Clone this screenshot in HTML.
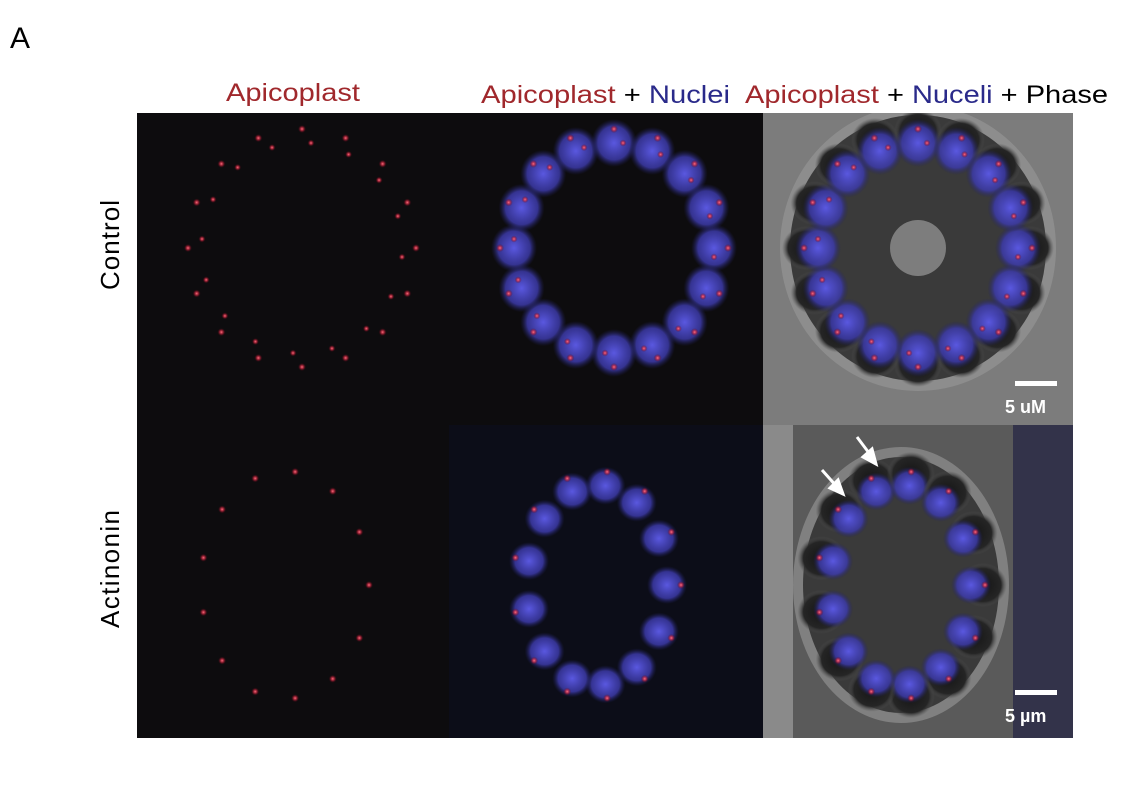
<!DOCTYPE html>
<html><head><meta charset="utf-8"><style>
body{margin:0;background:#fff;width:1131px;height:785px;overflow:hidden;font-family:"Liberation Sans",sans-serif}
</style></head><body>
<svg width="1131" height="785" viewBox="0 0 1131 785">
<defs>
<radialGradient id="rd"><stop offset="0" stop-color="#ff7080"/><stop offset="0.45" stop-color="#c82840" stop-opacity="0.7"/><stop offset="1" stop-color="#500010" stop-opacity="0"/></radialGradient>
<radialGradient id="bl"><stop offset="0" stop-color="#5a58e0"/><stop offset="0.7" stop-color="#3c3aa8" stop-opacity="0.85"/><stop offset="1" stop-color="#202060" stop-opacity="0"/></radialGradient>
<radialGradient id="dk"><stop offset="0" stop-color="#151515"/><stop offset="0.75" stop-color="#252525"/><stop offset="1" stop-color="#555" stop-opacity="0"/></radialGradient>
<clipPath id="c0"><rect x="763" y="113" width="310" height="312"/></clipPath>
<clipPath id="c1"><rect x="763" y="425" width="310" height="313"/></clipPath>
</defs>
<text x="10" y="48" font-size="30" fill="#000">A</text>
<text x="226" y="101" font-size="25" fill="#a0282c" textLength="134" lengthAdjust="spacingAndGlyphs">Apicoplast</text>
<text x="481" y="103" font-size="25" textLength="249" lengthAdjust="spacingAndGlyphs"><tspan fill="#a0282c">Apicoplast</tspan><tspan fill="#000"> + </tspan><tspan fill="#2a2a8a">Nuclei</tspan></text>
<text x="745" y="103" font-size="25" textLength="363" lengthAdjust="spacingAndGlyphs"><tspan fill="#a0282c">Apicoplast</tspan><tspan fill="#000"> + </tspan><tspan fill="#2a2a8a">Nuceli</tspan><tspan fill="#000"> + Phase</tspan></text>
<text transform="translate(119,245) rotate(-90)" font-size="26" text-anchor="middle" textLength="90">Control</text>
<text transform="translate(119,569) rotate(-90)" font-size="26" text-anchor="middle" textLength="118">Actinonin</text>
<g id="panels"></g>
<g><rect x="1015" y="381" width="42" height="5" fill="#fff"/><text x="1005" y="413" font-size="18" fill="#fff" font-weight="bold">5 uM</text></g>
<g><rect x="1015" y="690" width="42" height="5" fill="#fff"/><text x="1005" y="722" font-size="18" fill="#fff" font-weight="bold">5 µm</text></g>
<g stroke="#fff" stroke-width="3" fill="#fff">
<line x1="822" y1="470" x2="838" y2="488"/><polygon points="843,494 830,488 838,480"/>
<line x1="857" y1="437" x2="872" y2="457"/><polygon points="876,464 863,457 872,449"/>
</g>
</svg>
<script>
const NS="http://www.w3.org/2000/svg";
const g=document.getElementById('panels');
const cols=[137,449,763], rows=[113,425], W=[312,314,310], H=313;
const ringCtrl={cx:165,cy:135,rx:100,ry:105,n:16};
const ringAct={cx:148,cy:160,rx:70,ry:100,n:13};
function el(t,a,p){const e=document.createElementNS(NS,t);for(const k in a)e.setAttribute(k,a[k]);(p||g).appendChild(e);return e;}
for(let r=0;r<2;r++)for(let c=0;c<3;c++){
  const x0=cols[c],y0=rows[r],w=W[c];
  const pg=el('g',c==2?{'clip-path':'url(#c'+r+')'}:{});
  
  
  const bg=c==2?(r?'#5a5a5a':'#7c7c7c'):(c==1&&r?'#0c0d18':'#0d0c0e');
  el('rect',{x:x0,y:y0,width:w,height:H,fill:bg},pg);
  const ring=r?ringAct:ringCtrl;
  if(c==2){
    el('ellipse',{cx:x0+ring.cx-10,cy:y0+ring.cy,rx:ring.rx+38,ry:ring.ry+38,fill:'#9a9a9a',opacity:0.6},pg);
    el('ellipse',{cx:x0+ring.cx-10,cy:y0+ring.cy,rx:ring.rx+28,ry:ring.ry+28,fill:'#3a3a3a'},pg);
    if(r){el('rect',{x:x0,y:y0,width:30,height:H,fill:'#8a8a8a'},pg);el('rect',{x:x0+250,y:y0,width:60,height:H,fill:'#33334a'},pg);}
  }
  for(let i=0;i<ring.n;i++){
    const a=i/ring.n*2*Math.PI;
    const nx=x0+ring.cx-(c==2?10:0)+Math.cos(a)*ring.rx, ny=y0+ring.cy+Math.sin(a)*ring.ry;
    if(c==2){el('ellipse',{cx:nx+Math.cos(a)*12,cy:ny+Math.sin(a)*12,rx:24,ry:22,fill:'url(#dk)'},pg);}
    if(c>0){el('ellipse',{cx:nx,cy:ny,rx:r?20:23,ry:r?19:24,fill:'url(#bl)'},pg);}
    el('circle',{cx:nx+Math.cos(a)*14,cy:ny+Math.sin(a)*14,r:4,fill:'url(#rd)'},pg);
    if(!r) el('circle',{cx:nx-Math.sin(a)*9,cy:ny+Math.cos(a)*9,r:3.5,fill:'url(#rd)'},pg);
  }
  if(c==2&&!r) el('ellipse',{cx:x0+ring.cx-10,cy:y0+ring.cy,rx:28,ry:28,fill:'#c0c0c0',opacity:0.5},pg);
}
</script>
</body></html>
